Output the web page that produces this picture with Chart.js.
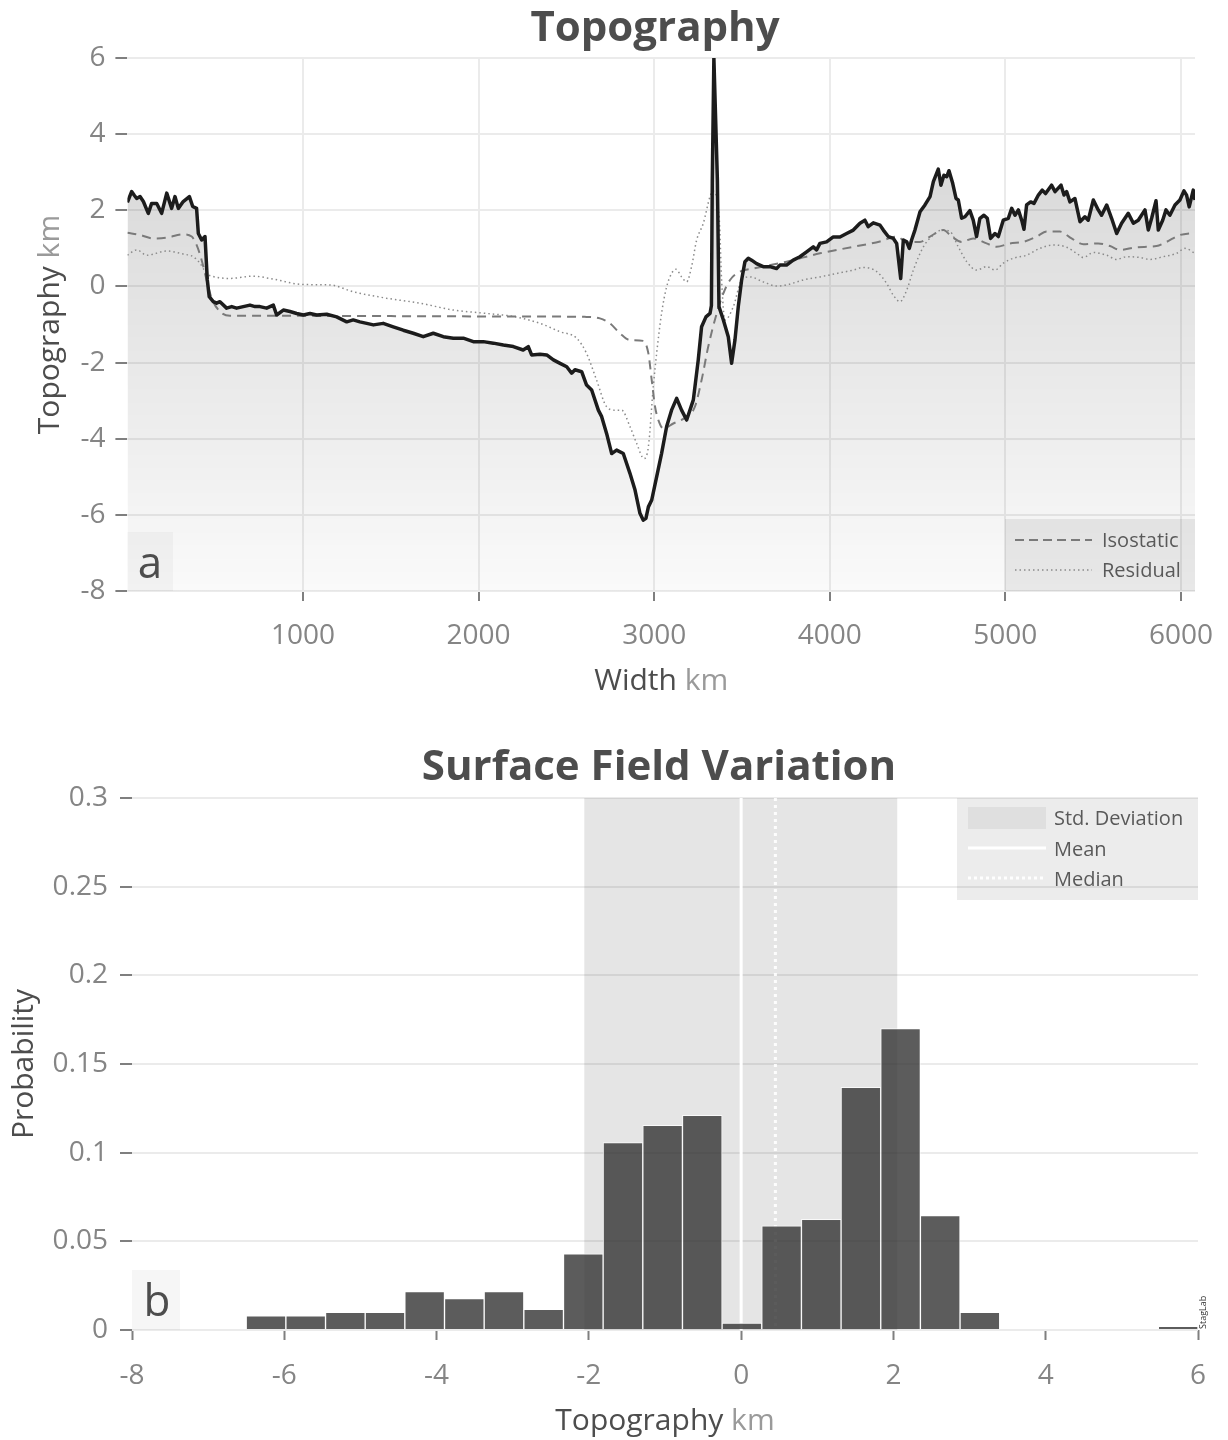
<!DOCTYPE html>
<html>
<head>
<meta charset="utf-8">
<script src="https://cdn.jsdelivr.net/npm/chart.js@4.4.1/dist/chart.umd.min.js"></script>
<style>
html,body{margin:0;padding:0;background:#ffffff;}
#wrap{position:relative;width:1228px;height:1440px;overflow:hidden;}
canvas{position:absolute;left:0;}
#c1{top:0;}
#c2{top:720px;}
</style>
</head>
<body>
<div id="wrap">
<canvas id="c1" width="1228" height="710" style="width:1228px;height:710px"></canvas>
<canvas id="c2" width="1228" height="720" style="width:1228px;height:720px"></canvas>
</div>
<script>
// ---------------- DATA ----------------
// Panel a: topography profile (km along profile, km elevation)
const topoX = [0,24,38,53,72,91,119,138,167,195,224,252,271,290,318,353,372,394,404,423,442,455,466,489,508,527,565,594,622,660,698,727,755,793,831,850,888,926,964,1002,1040,1078,1135,1192,1249,1286,1324,1363,1401,1457,1514,1571,1628,1685,1742,1799,1856,1913,1970,2027,2084,2141,2198,2254,2283,2302,2350,2388,2426,2464,2502,2530,2549,2587,2615,2644,2682,2701,2729,2758,2786,2824,2862,2891,2919,2938,2953,2967,2986,3014,3042,3071,3099,3128,3156,3185,3223,3251,3270,3295,3318,3326,3331,3340,3360,3369,3394,3422,3441,3460,3479,3498,3517,3536,3555,3583,3621,3659,3697,3716,3754,3792,3830,3868,3906,3925,3944,3982,4020,4058,4096,4134,4172,4200,4219,4248,4286,4305,4333,4362,4381,4404,4419,4438,4453,4466,4485,4514,4542,4571,4590,4618,4633,4650,4666,4679,4700,4719,4732,4751,4770,4798,4817,4836,4855,4878,4897,4916,4941,4960,4988,5017,5036,5055,5074,5093,5106,5121,5144,5163,5188,5210,5229,5263,5283,5317,5334,5349,5368,5396,5425,5453,5472,5501,5529,5548,5577,5605,5634,5662,5700,5729,5757,5795,5814,5833,5858,5871,5896,5915,5937,5966,5994,6017,6032,6047,6070,6080];
const topoY = [2.21,2.49,2.40,2.31,2.36,2.23,1.92,2.18,2.18,1.92,2.45,2.05,2.36,2.05,2.23,2.36,2.10,2.05,1.39,1.22,1.31,0.17,-0.27,-0.40,-0.44,-0.40,-0.57,-0.53,-0.57,-0.53,-0.49,-0.53,-0.53,-0.57,-0.49,-0.75,-0.62,-0.66,-0.71,-0.75,-0.71,-0.75,-0.73,-0.80,-0.93,-0.88,-0.93,-0.97,-1.01,-0.97,-1.06,-1.15,-1.23,-1.32,-1.23,-1.32,-1.36,-1.36,-1.45,-1.45,-1.49,-1.54,-1.58,-1.67,-1.58,-1.80,-1.78,-1.80,-1.93,-2.02,-2.11,-2.28,-2.19,-2.24,-2.59,-2.72,-3.25,-3.42,-3.86,-4.39,-4.30,-4.39,-4.91,-5.35,-5.96,-6.14,-6.09,-5.79,-5.61,-5.00,-4.39,-3.68,-3.25,-2.94,-3.25,-3.51,-2.98,-1.93,-1.06,-0.80,-0.71,-0.50,2.80,6.00,2.80,-0.53,-0.88,-1.32,-2.02,-1.41,-0.53,0.17,0.65,0.74,0.69,0.60,0.52,0.52,0.47,0.56,0.56,0.69,0.78,0.91,1.04,0.96,1.13,1.17,1.30,1.30,1.39,1.48,1.66,1.74,1.57,1.67,1.61,1.48,1.31,1.26,1.13,0.21,1.22,1.17,1.00,1.22,1.48,1.96,2.14,2.36,2.75,3.08,2.66,2.92,2.88,3.04,2.71,2.31,2.27,1.79,1.83,1.99,1.74,1.31,1.79,1.87,1.79,1.26,1.39,1.31,1.74,1.79,2.05,1.87,2.01,1.74,1.50,2.14,2.22,2.18,2.40,2.53,2.44,2.66,2.49,2.66,2.40,2.49,2.22,2.31,1.70,1.83,1.74,2.27,2.01,1.87,2.14,1.79,1.39,1.66,1.92,1.66,1.74,2.01,1.48,1.79,2.25,1.48,1.74,2.01,1.87,2.14,2.27,2.51,2.40,2.09,2.53,2.27];

const isoX = [0,72,148,224,318,366,394,423,451,480,527,584,717,1500,2236,2615,2691,2748,2805,2862,2938,2967,2986,3005,3024,3052,3109,3185,3232,3270,3308,3356,3394,3432,3489,3565,3754,3944,4134,4286,4381,4438,4514,4571,4647,4694,4751,4817,4893,4950,5026,5102,5178,5235,5311,5377,5444,5529,5596,5653,5747,5861,5918,5994,6080];
const isoY = [1.41,1.35,1.26,1.28,1.37,1.31,1.09,0.69,0.17,-0.31,-0.66,-0.77,-0.77,-0.78,-0.79,-0.80,-0.84,-0.97,-1.23,-1.41,-1.43,-1.76,-2.46,-3.16,-3.51,-3.73,-3.60,-3.42,-3.16,-2.46,-1.58,-0.71,-0.18,0.17,0.39,0.47,0.65,0.87,1.04,1.18,1.31,1.17,1.17,1.31,1.48,1.31,1.17,1.26,1.13,1.04,1.13,1.17,1.31,1.44,1.44,1.26,1.11,1.13,1.06,0.96,1.03,1.06,1.17,1.35,1.41];

const resX = [0,53,110,224,318,375,413,451,489,584,717,812,1002,1154,1286,1476,1666,1856,2046,2198,2350,2464,2559,2615,2672,2729,2777,2815,2862,2900,2942,2967,2995,3014,3042,3071,3099,3124,3156,3185,3213,3242,3280,3318,3334,3371,3384,3403,3451,3498,3546,3621,3697,3754,3849,3944,4039,4134,4191,4267,4324,4362,4400,4438,4476,4533,4590,4637,4685,4732,4780,4836,4893,4941,4988,5045,5121,5197,5273,5349,5406,5444,5501,5577,5634,5691,5767,5823,5899,5975,6023,6080];
const resY = [0.82,0.96,0.82,0.93,0.85,0.78,0.61,0.34,0.26,0.21,0.27,0.21,0.05,0.04,-0.14,-0.31,-0.44,-0.62,-0.71,-0.79,-0.97,-1.19,-1.36,-1.76,-2.46,-3.16,-3.25,-3.25,-3.68,-4.12,-4.52,-4.21,-2.63,-1.76,-0.71,-0.01,0.34,0.45,0.25,0.12,0.52,1.22,1.66,2.36,2.50,1.74,0.17,-0.88,-0.53,0.17,0.25,0.12,0.01,0.04,0.17,0.25,0.34,0.43,0.50,0.39,0.08,-0.23,-0.40,-0.10,0.43,1.04,1.35,1.48,1.44,1.04,0.65,0.43,0.52,0.43,0.61,0.74,0.82,1.00,1.09,1.03,0.87,0.76,0.89,0.82,0.71,0.78,0.76,0.71,0.78,0.87,1.00,0.87];

const topXTicks = [1000,2000,3000,4000,5000,6000];
const topYTicks = [-8,-6,-4,-2,0,2,4,6];

// Panel b: histogram of topography (24 bins from -6.5 to 6.0 km)
const histBinMin = -6.5;
const histBinMax = 6.0;
const histProb = [0.008,0.008,0.010,0.010,0.0216,0.0177,0.0216,0.0117,0.043,0.1057,0.1154,0.1211,0.0039,0.0587,0.0624,0.1369,0.170,0.0645,0.010,0,0,0,0,0.002];
const histMean = 0.0;
const histMedian = 0.45;
const histStdLow = -2.06;
const histStdHigh = 2.05;
const histXTicks = [-8,-6,-4,-2,0,2,4,6];
const histYTicks = [0,0.05,0.1,0.15,0.2,0.25,0.3];

// ---------------- STYLE ----------------
const FONT = "'Open Sans', 'DejaVu Sans', sans-serif";
const TICK_LABEL = '#858585';
const TICK_MARK = '#7f7f7f';
const GRID = '#ebebeb';
const DARK = '#4d4d4d';
const UNIT = '#9a9a9a';
Chart.defaults.font.family = FONT;

function twoTone(ctx, parts, cx, cy, size, rotate) {
  ctx.save();
  ctx.font = size + 'px ' + FONT;
  ctx.textBaseline = 'middle';
  ctx.textAlign = 'left';
  const total = parts.reduce((s, p) => s + ctx.measureText(p[0]).width, 0);
  ctx.translate(cx, cy);
  if (rotate) ctx.rotate(-Math.PI / 2);
  let x = -total / 2;
  for (const p of parts) {
    ctx.fillStyle = p[1];
    ctx.fillText(p[0], x, 0);
    x += ctx.measureText(p[0]).width;
  }
  ctx.restore();
}
function title(ctx, text, cx, cy, size) {
  ctx.save();
  ctx.font = 'bold ' + size + 'px ' + FONT;
  ctx.fillStyle = DARK;
  ctx.textAlign = 'center';
  ctx.textBaseline = 'middle';
  ctx.fillText(text, cx, cy);
  ctx.restore();
}
function panelLabel(ctx, text, x0, y0, x1, y1, cx, baseline) {
  ctx.save();
  ctx.fillStyle = 'rgba(0,0,0,0.035)';
  ctx.fillRect(x0, y0, x1 - x0, y1 - y0);
  ctx.font = '44px ' + FONT;
  ctx.fillStyle = DARK;
  ctx.textAlign = 'center';
  ctx.textBaseline = 'alphabetic';
  ctx.fillText(text, cx, baseline);
  ctx.restore();
}

function axisCommon(extra) {
  return Object.assign({
    border: {display: false},
    grid: {color: GRID, lineWidth: 2, tickColor: TICK_MARK, tickWidth: 2, tickLength: 12},
  }, extra);
}

// ---------------- CHART A ----------------
const topDecor = {
  id: 'topDecor',
  afterDraw(chart) {
    const ctx = chart.ctx;
    const a = chart.chartArea;
    title(ctx, 'Topography', 655, 29, 42);
    twoTone(ctx, [['Width', DARK], [' km', UNIT]], (a.left + a.right) / 2, 681, 30, false);
    twoTone(ctx, [['Topography', DARK], [' km', UNIT]], 50, (a.top + a.bottom) / 2, 30, true);
    panelLabel(ctx, 'a', a.left, 532, 173, a.bottom, 150, 578);
    // legend
    ctx.save();
    ctx.fillStyle = 'rgba(0,0,0,0.075)';
    ctx.fillRect(1005, 519, a.right - 1005, a.bottom - 519);
    ctx.strokeStyle = '#7a7a7a'; ctx.lineWidth = 2; ctx.setLineDash([9, 5]);
    ctx.beginPath(); ctx.moveTo(1015, 540); ctx.lineTo(1092, 540); ctx.stroke();
    ctx.strokeStyle = '#8a8a8a'; ctx.lineWidth = 1.5; ctx.setLineDash([1.5, 3]);
    ctx.beginPath(); ctx.moveTo(1015, 570); ctx.lineTo(1092, 570); ctx.stroke();
    ctx.setLineDash([]);
    ctx.font = '20px ' + FONT; ctx.fillStyle = '#595959';
    ctx.textAlign = 'left'; ctx.textBaseline = 'middle';
    ctx.fillText('Isostatic', 1102, 541);
    ctx.fillText('Residual', 1102, 571);
    ctx.restore();
  }
};

const fillGradient = (c) => {
  const chart = c.chart;
  const a = chart.chartArea;
  if (!a) return 'rgba(0,0,0,0.1)';
  const g = chart.ctx.createLinearGradient(0, a.top, 0, a.bottom);
  g.addColorStop(0, 'rgba(0,0,0,0.18)');
  g.addColorStop(1, 'rgba(0,0,0,0.02)');
  return g;
};

new Chart(document.getElementById('c1'), {
  type: 'line',
  data: {
    datasets: [
      {label: 'Topography', data: topoX.map((x, i) => ({x, y: topoY[i]})), borderColor: '#1c1c1c', borderWidth: 3.5,
       pointRadius: 0, tension: 0, fill: 'start', backgroundColor: fillGradient, borderJoinStyle: 'round'},
      {label: 'Isostatic', data: isoX.map((x, i) => ({x, y: isoY[i]})), borderColor: '#7a7a7a', borderWidth: 2,
       borderDash: [9, 6], pointRadius: 0, cubicInterpolationMode: 'monotone', fill: false},
      {label: 'Residual', data: resX.map((x, i) => ({x, y: resY[i]})), borderColor: '#8a8a8a', borderWidth: 1.5,
       borderDash: [1.5, 3], pointRadius: 0, cubicInterpolationMode: 'monotone', fill: false}
    ]
  },
  options: {
    responsive: false, animation: false, events: [],
    layout: {padding: {left: 0, top: 58, right: 33, bottom: 59}},
    plugins: {legend: {display: false}, tooltip: {enabled: false}, filler: {drawTime: 'beforeDatasetsDraw'}},
    scales: {
      x: axisCommon({
        type: 'linear', min: 0, max: 6080,
        grid: {color: GRID, lineWidth: 2, tickColor: TICK_MARK, tickWidth: 2, tickLength: 10},
        afterBuildTicks: s => { s.ticks = topXTicks.map(v => ({value: v})); },
        ticks: {color: TICK_LABEL, font: {size: 28, family: FONT, lineHeight: 1.5}, padding: 14, maxRotation: 0, callback: v => String(v)},
        afterFit: s => { s.height = 60; }
      }),
      y: axisCommon({
        type: 'linear', min: -8, max: 6,
        afterBuildTicks: s => { s.ticks = topYTicks.map(v => ({value: v})); },
        ticks: {color: TICK_LABEL, font: {size: 28, family: FONT}, padding: 10, callback: v => String(v)},
        afterFit: s => { s.width = 127.4; }
      })
    }
  },
  plugins: [topDecor]
});

// ---------------- CHART B ----------------
const binW = (histBinMax - histBinMin) / histProb.length;
const histData = histProb.map((p, i) => ({x: histBinMin + binW * (i + 0.5), y: p}));

const botDecor = {
  id: 'botDecor',
  beforeDatasetsDraw(chart) {
    const ctx = chart.ctx;
    const a = chart.chartArea;
    const xs = chart.scales.x;
    const l = xs.getPixelForValue(histStdLow), r = xs.getPixelForValue(histStdHigh);
    const m = xs.getPixelForValue(histMean), md = xs.getPixelForValue(histMedian);
    ctx.save();
    ctx.fillStyle = 'rgba(0,0,0,0.1)';
    ctx.fillRect(l, a.top, r - l, a.bottom - a.top);
    ctx.strokeStyle = '#ffffff';
    ctx.lineWidth = 3;
    ctx.beginPath(); ctx.moveTo(m, a.top); ctx.lineTo(m, a.bottom); ctx.stroke();
    ctx.globalAlpha = 0.9;
    ctx.setLineDash([3, 4]);
    ctx.beginPath(); ctx.moveTo(md, a.top); ctx.lineTo(md, a.bottom); ctx.stroke();
    ctx.restore();
  },
  afterDraw(chart) {
    const ctx = chart.ctx;
    const a = chart.chartArea;
    title(ctx, 'Surface Field Variation', 659, 48, 42);
    twoTone(ctx, [['Topography', DARK], [' km', UNIT]], (a.left + a.right) / 2, 701, 30, false);
    twoTone(ctx, [['Probability', DARK]], 24, (a.top + a.bottom) / 2, 30, true);
    panelLabel(ctx, 'b', a.left, 550, 180, a.bottom, 157, 596);
    // legend
    ctx.save();
    ctx.fillStyle = 'rgba(0,0,0,0.075)';
    ctx.fillRect(957, a.top, a.right - 957, 180 - a.top);
    ctx.fillStyle = 'rgba(0,0,0,0.06)';
    ctx.fillRect(968, 87, 78, 22);
    ctx.strokeStyle = '#ffffff'; ctx.lineWidth = 3;
    ctx.beginPath(); ctx.moveTo(968, 128); ctx.lineTo(1046, 128); ctx.stroke();
    ctx.setLineDash([3, 3]); ctx.globalAlpha = 0.9;
    ctx.beginPath(); ctx.moveTo(968, 158); ctx.lineTo(1046, 158); ctx.stroke();
    ctx.setLineDash([]); ctx.globalAlpha = 1;
    ctx.font = '20px ' + FONT; ctx.fillStyle = '#595959';
    ctx.textAlign = 'left'; ctx.textBaseline = 'middle';
    ctx.fillText('Std. Deviation', 1054, 99);
    ctx.fillText('Mean', 1054, 130);
    ctx.fillText('Median', 1054, 160);
    // signature
    ctx.translate(1208, 609);
    ctx.rotate(-Math.PI / 2);
    ctx.font = '9px ' + FONT; ctx.fillStyle = '#333333';
    ctx.textAlign = 'left'; ctx.textBaseline = 'bottom';
    ctx.fillText('StagLab', 0, 0);
    ctx.restore();
  }
};

new Chart(document.getElementById('c2'), {
  type: 'bar',
  data: {
    datasets: [{
      label: 'Probability', data: histData,
      backgroundColor: 'rgba(51,51,51,0.8)', borderColor: 'rgba(255,255,255,0.75)', borderWidth: 1,
      borderSkipped: 'start', barPercentage: 1.0, categoryPercentage: 1.0
    }]
  },
  options: {
    responsive: false, animation: false, events: [],
    layout: {padding: {left: 0, top: 78, right: 30, bottom: 50}},
    plugins: {legend: {display: false}, tooltip: {enabled: false}},
    scales: {
      x: axisCommon({
        type: 'linear', min: -8, max: 6, offset: false,
        grid: {drawOnChartArea: false, offset: false, tickColor: TICK_MARK, tickWidth: 2, tickLength: 10},
        afterBuildTicks: s => { s.ticks = histXTicks.map(v => ({value: v})); },
        ticks: {color: TICK_LABEL, font: {size: 28, family: FONT, lineHeight: 1.6}, padding: 14, maxRotation: 0, callback: v => String(v)},
        afterFit: s => { s.height = 60; }
      }),
      y: axisCommon({
        type: 'linear', min: 0, max: 0.3,
        afterBuildTicks: s => { s.ticks = histYTicks.map(v => ({value: v})); },
        ticks: {color: TICK_LABEL, font: {size: 28, family: FONT}, padding: 12, callback: v => String(v)},
        afterFit: s => { s.width = 132; }
      })
    }
  },
  plugins: [botDecor]
});
</script>
</body>
</html>
